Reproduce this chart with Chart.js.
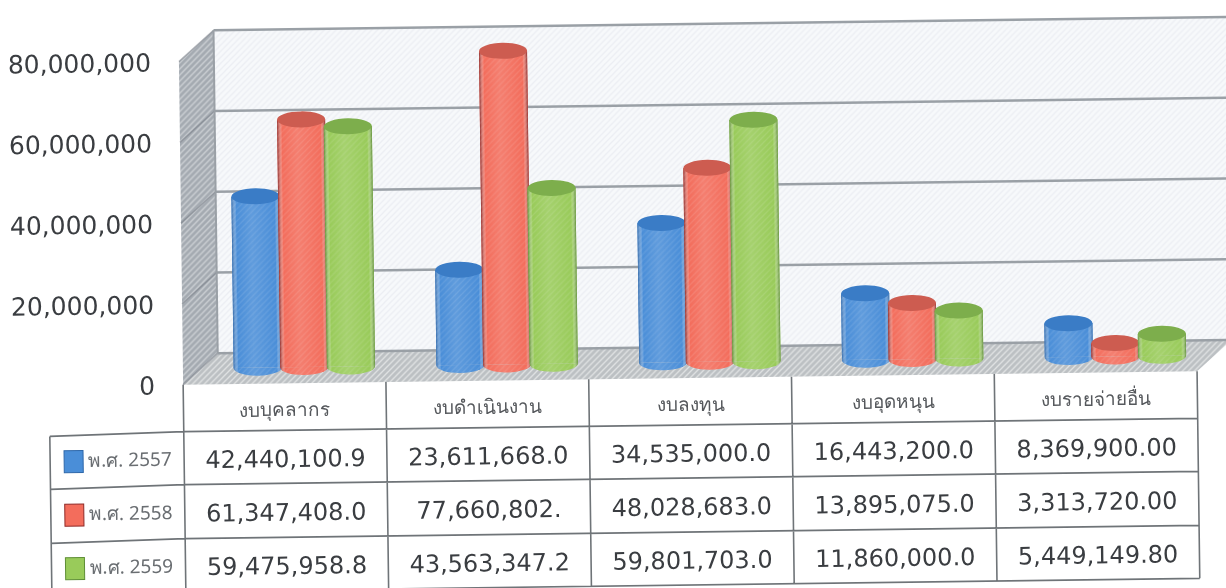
<!DOCTYPE html>
<html>
<head>
<meta charset="utf-8">
<script src="https://cdn.jsdelivr.net/npm/chart.js@4"></script>
<style>
  html, body { margin: 0; padding: 0; background: #fff; overflow: hidden; }
  canvas { display: block; }
</style>
</head>
<body>
<canvas id="myChart" width="1226" height="588"></canvas>
<script>
const categories = ["งบบุคลากร", "งบดำเนินงาน", "งบลงทุน", "งบอุดหนุน", "งบรายจ่ายอื่น"];
const years = ["พ.ศ. 2557", "พ.ศ. 2558", "พ.ศ. 2559"];

const values2557 = [42440100.9, 23611668.0, 34535000.0, 16443200.0, 8369900.00];
const values2558 = [61347408.0, 77660802, 48028683.0, 13895075.0, 3313720.00];
const values2559 = [59475958.8, 43563347.2, 59801703.0, 11860000.0, 5449149.80];

// table text is kept as printed, the scan cuts some of them short
const text2557 = ["42,440,100.9", "23,611,668.0", "34,535,000.0", "16,443,200.0", "8,369,900.00"];
const text2558 = ["61,347,408.0", "77,660,802.", "48,028,683.0", "13,895,075.0", "3,313,720.00"];
const text2559 = ["59,475,958.8", "43,563,347.2", "59,801,703.0", "11,860,000.0", "5,449,149.80"];
const tableText = [text2557, text2558, text2559];

const fills = ["#4a8ed8", "#f36d5c", "#99cb5a"];
const caps = ["#3a7cc6", "#cd5c50", "#7dae4c"];
const edges = ["#2f68aa", "#8f2a28", "#5f8f36"];

// the picture is a slightly tilted scan
const tilt = -0.75 * Math.PI / 180;
const depthX = 35, depthY = -31;
const barShiftX = 20, barShiftY = -16;
const capRadiusY = 8;
const rowLines = [426, 479, 533, 586];
const legendLeft = 48;
const legendDrop = 3;

function hatch(ctx, base, line) {
  const c = document.createElement("canvas");
  c.width = 6; c.height = 6;
  const g = c.getContext("2d");
  g.fillStyle = base;
  g.fillRect(0, 0, 6, 6);
  g.strokeStyle = line;
  g.lineWidth = 1.4;
  g.beginPath();
  g.moveTo(-1, 1); g.lineTo(1, -1);
  g.moveTo(-1, 7); g.lineTo(7, -1);
  g.moveTo(5, 7); g.lineTo(7, 5);
  g.stroke();
  return ctx.createPattern(c, "repeat");
}

function poly(ctx, pts, fill) {
  ctx.beginPath();
  pts.forEach((p, i) => i ? ctx.lineTo(p[0], p[1]) : ctx.moveTo(p[0], p[1]));
  ctx.closePath();
  ctx.fillStyle = fill;
  ctx.fill();
}

function shadeBars(ctx, meta, i) {
  meta.data.forEach(bar => {
    const w = bar.width, l = bar.x - w / 2;

    // round bottom, then shade the flat bar into a cylinder
    ctx.beginPath();
    ctx.ellipse(bar.x, bar.base, w / 2, capRadiusY, 0, 0, Math.PI);
    ctx.fillStyle = fills[i];
    ctx.fill();

    const shade = ctx.createLinearGradient(l, 0, l + w, 0);
    shade.addColorStop(0, edges[i]);
    shade.addColorStop(0.1, "rgba(255,255,255,0)");
    shade.addColorStop(0.42, "rgba(255,255,255,0.12)");
    shade.addColorStop(0.9, "rgba(255,255,255,0)");
    shade.addColorStop(1, edges[i]);
    ctx.beginPath();
    ctx.moveTo(l, bar.y);
    ctx.lineTo(l + w, bar.y);
    ctx.lineTo(l + w, bar.base);
    ctx.ellipse(bar.x, bar.base, w / 2, capRadiusY, 0, 0, Math.PI);
    ctx.closePath();
    ctx.fillStyle = shade;
    ctx.fill();
    ctx.fillStyle = hatch(ctx, "rgba(255,255,255,0)", "rgba(255,255,255,0.10)");
    ctx.fill();

    ctx.beginPath();
    ctx.ellipse(bar.x, bar.y, w / 2, capRadiusY, 0, 0, Math.PI * 2);
    ctx.fillStyle = caps[i];
    ctx.fill();
  });
}

const box3d = {
  id: "box3d",
  beforeDraw(chart) {
    const ctx = chart.ctx;
    const a = chart.chartArea;
    const y = chart.scales.y;

    // tilt stays on until afterDraw
    ctx.save();
    ctx.translate(613, 294);
    ctx.rotate(tilt);
    ctx.translate(-613, -294);

    const x0 = a.left, x1 = a.right, t = a.top, b = a.bottom;
    poly(ctx, [[x0 + depthX, t + depthY], [x1 + depthX + 60, t + depthY], [x1 + depthX + 60, b + depthY], [x0 + depthX, b + depthY]], hatch(ctx, "#f7f9fb", "#eceef3"));
    poly(ctx, [[x0, t], [x0 + depthX, t + depthY], [x0 + depthX, b + depthY], [x0, b]], hatch(ctx, "#a4aab1", "#ccd0d4"));
    poly(ctx, [[x0, b], [x0 + depthX, b + depthY], [x1 + depthX, b + depthY], [x1, b]], hatch(ctx, "#bcc0c3", "#dfe1e2"));

    y.ticks.forEach(tick => {
      const p = y.getPixelForValue(tick.value);
      ctx.strokeStyle = "#9aa0a6";
      ctx.lineWidth = 2.5;
      ctx.beginPath();
      ctx.moveTo(x0 + depthX, p + depthY);
      ctx.lineTo(x1 + depthX + 60, p + depthY);
      ctx.stroke();
      ctx.strokeStyle = "rgba(120,126,134,0.55)";
      ctx.lineWidth = 1.5;
      ctx.beginPath();
      ctx.moveTo(x0, p);
      ctx.lineTo(x0 + depthX, p + depthY);
      ctx.stroke();
    });
    ctx.strokeStyle = "#9aa0a6";
    ctx.lineWidth = 2;
    ctx.beginPath();
    ctx.moveTo(x0 + depthX, t + depthY);
    ctx.lineTo(x0 + depthX, b + depthY);
    ctx.stroke();
  },
  // bars go down in series order so that later series sit on top
  beforeDatasetDraw() {
    return false;
  },
  afterDatasetsDraw(chart) {
    const ctx = chart.ctx;
    chart.data.datasets.forEach((ds, i) => {
      const meta = chart.getDatasetMeta(i);
      ctx.save();
      ctx.translate(barShiftX, barShiftY);
      meta.controller.draw();
      shadeBars(ctx, meta, i);
      ctx.restore();
    });
  },
  afterDraw(chart) {
    const ctx = chart.ctx;
    const a = chart.chartArea;
    const x = chart.scales.x;
    const band = x.getPixelForValue(1) - x.getPixelForValue(0);

    ctx.strokeStyle = "#6f7478";
    ctx.lineWidth = 1.6;
    ctx.beginPath();
    rowLines.forEach(r => {
      ctx.moveTo(legendLeft, r + legendDrop);
      ctx.lineTo(a.left, r);
      ctx.lineTo(a.right, r);
    });
    ctx.moveTo(legendLeft, rowLines[0] + legendDrop);
    ctx.lineTo(legendLeft, rowLines[3] + legendDrop);
    for (let c = 0; c <= categories.length; c++) {
      const px = a.left + band * c;
      ctx.moveTo(px, a.bottom);
      ctx.lineTo(px, rowLines[3]);
    }
    ctx.stroke();

    ctx.textBaseline = "middle";
    tableText.forEach((row, r) => {
      const mid = (rowLines[r] + rowLines[r + 1]) / 2;

      ctx.fillStyle = fills[r];
      ctx.fillRect(legendLeft + 14, mid - 9, 19, 22);
      ctx.strokeStyle = edges[r];
      ctx.lineWidth = 1;
      ctx.strokeRect(legendLeft + 14, mid - 9, 19, 22);
      ctx.fillStyle = "#6a6e72";
      ctx.textAlign = "left";
      ctx.font = "19px 'Noto Sans', 'DejaVu Sans', sans-serif";
      ctx.fillText(years[r], legendLeft + 38, mid + 2);

      ctx.fillStyle = "#3a3d41";
      ctx.textAlign = "center";
      ctx.font = "24px 'DejaVu Sans', sans-serif";
      row.forEach((txt, c) => ctx.fillText(txt, x.getPixelForValue(c), mid + 4));
    });

    ctx.restore();
  }
};

const ctx = document.getElementById("myChart");

new Chart(ctx, {
  type: "bar",
  data: {
    labels: categories,
    datasets: [
      { label: years[0], data: values2557, backgroundColor: fills[0], clip: false },
      { label: years[1], data: values2558, backgroundColor: fills[1], clip: false },
      { label: years[2], data: values2559, backgroundColor: fills[2], clip: false }
    ]
  },
  options: {
    responsive: false,
    animation: false,
    categoryPercentage: 0.69,
    barPercentage: 1.03,
    layout: { padding: { top: 56, right: 30, left: 0, bottom: 0 } },
    plugins: { legend: { display: false }, title: { display: false }, tooltip: { enabled: false } },
    scales: {
      x: {
        grid: { display: false },
        border: { display: false },
        ticks: { padding: 8, color: "#55585c", font: { family: "'Noto Sans', 'DejaVu Sans', sans-serif", size: 19 } },
        afterFit: s => { s.height = 588 - 379; }
      },
      y: {
        min: 0,
        max: 80000000,
        grid: { display: false },
        border: { display: false },
        ticks: {
          stepSize: 20000000,
          padding: 20,
          labelOffset: 3,
          color: "#3a3d41",
          font: { family: "'DejaVu Sans', sans-serif", size: 25 },
          callback: v => v.toLocaleString("en-US")
        },
        afterFit: s => { s.width = 182; }
      }
    }
  },
  plugins: [box3d]
});
</script>
</body>
</html>
